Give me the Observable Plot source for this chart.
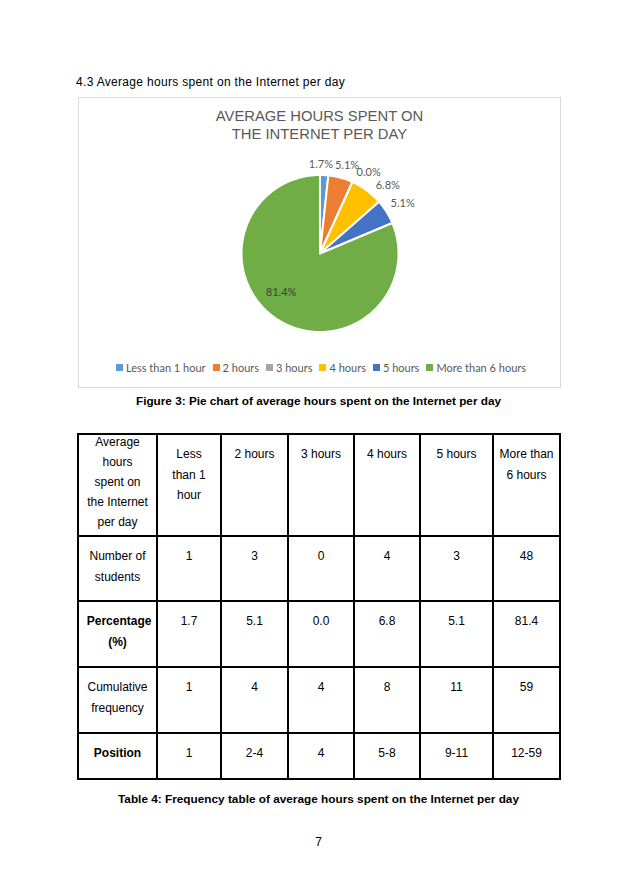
<!DOCTYPE html>
<html>
<head>
<meta charset="utf-8">
<script src="https://cdn.jsdelivr.net/npm/d3@7"></script>
<script src="https://cdn.jsdelivr.net/npm/@observablehq/plot@0.6"></script>
<style>
  html, body { margin: 0; padding: 0; background: #fff; }
  body { width: 637px; height: 889px; position: relative; font-family: "Liberation Sans", Arial, sans-serif; color: #000; overflow: hidden; }
  .abs { position: absolute; }
  #heading { left: 76px; top: 74px; font-size: 12px; line-height: 16px; letter-spacing: 0.32px; }
  #box { left: 78px; top: 97px; width: 483px; height: 291px; border: 1px solid #d9d9d9; box-sizing: border-box; }
  #ctitle { left: 78px; top: 107px; width: 483px; text-align: center; font-size: 14.8px; line-height: 18px; color: #595959; }
  #pie { left: 78px; top: 145px; }
  #legend { left: 83px; top: 357px; width: 483px; }
  #legend div > span { margin-right: 7px !important; }
  #legend div > span > svg { margin-right: 3px !important; }
  #figcap { left: 0; width: 637px; top: 393px; text-align: center; font-size: 11.75px; line-height: 16px; font-weight: bold; }
  #tbl { left: 77px; top: 433px; border-collapse: collapse; table-layout: fixed; font-size: 12px; }
  #tbl td { border: 2px solid #000; vertical-align: top; text-align: center; padding: 9px 0 0 0; line-height: 20.5px; overflow: hidden; }
  #tbl td div.w { margin: 0 auto; }
  #tbl td.first { padding: 0; line-height: 20px; }
  #tbl td.first div.w { position: relative; top: -3px; }
  #tbl td.bold { font-weight: bold; }
  #tabcap { left: 0; width: 637px; top: 791px; text-align: center; font-size: 11.8px; line-height: 16px; font-weight: bold; }
  #pnum { left: 0; width: 637px; top: 834px; text-align: center; font-size: 12px; line-height: 16px; }
</style>
</head>
<body>
<div id="heading" class="abs">4.3 Average hours spent on the Internet per day</div>
<div id="box" class="abs"></div>
<div id="ctitle" class="abs">AVERAGE HOURS SPENT ON<br>THE INTERNET PER DAY</div>
<div id="pie" class="abs"></div>
<div id="legend" class="abs"></div>
<div id="figcap" class="abs">Figure 3: Pie chart of average hours spent on the Internet per day</div>
<table id="tbl" class="abs"></table>
<div id="tabcap" class="abs">Table 4: Frequency table of average hours spent on the Internet per day</div>
<div id="pnum" class="abs">7</div>
<script>
// ---- data ----
const categories = ["Less than 1 hour", "2 hours", "3 hours", "4 hours", "5 hours", "More than 6 hours"];
const students = [1, 3, 0, 4, 3, 48];
const percentages = [1.7, 5.1, 0.0, 6.8, 5.1, 81.4];
const cumulative = [1, 4, 4, 8, 11, 59];
const positions = ["1", "2-4", "4", "5-8", "9-11", "12-59"];
const rowLabels = ["Number of students", "Percentage (%)", "Cumulative frequency", "Position"];
const headLabel = "Average hours spent on the Internet per day";

// ---- style ----
const colors = ["#5B9BD5", "#ED7D31", "#A5A5A5", "#FFC000", "#4472C4", "#70AD47"];
const R = 78.5;

// ---- pie geometry from data ----
const rows = categories.map((c, i) => ({cat: c, count: students[i], pct: percentages[i]}));
const arcs = d3.pie().sort(null).value(d => d.count).startAngle(0).endAngle(2 * Math.PI)(rows);
const pts = [];
arcs.forEach(a => {
  pts.push({cat: a.data.cat, x: 0, y: 0});
  const n = Math.max(2, Math.ceil((a.endAngle - a.startAngle) / 0.01));
  for (let k = 0; k <= n; k++) {
    const t = a.startAngle + (a.endAngle - a.startAngle) * k / n;
    pts.push({cat: a.data.cat, x: R * Math.sin(t), y: R * Math.cos(t)});
  }
  pts.push({cat: a.data.cat, x: 0, y: 0});
});

// labels: outside-end for small slices with a minimum angular gap; inside for the large slice
const labels = [];
let prev = -Infinity;
const gap = 14 * Math.PI / 180;
arcs.forEach((a, i) => {
  const mid = (a.startAngle + a.endAngle) / 2;
  const txt = a.data.pct.toFixed(1) + "%";
  if (a.data.pct > 50) {
    labels.push({x: 0.7 * R * Math.sin(mid + 0.2), y: 0.7 * R * Math.cos(mid + 0.2), t: txt, inside: true});
  } else {
    const ang = i === 0 ? mid * 0.2 : Math.max(mid, prev + gap);
    prev = Math.max(ang, mid);
    const d = R + 4.5 + 12 * Math.abs(Math.sin(ang)) + 6 * Math.abs(Math.cos(ang));
    labels.push({x: d * Math.sin(ang), y: d * Math.cos(ang), t: txt, inside: false});
  }
});

const chart = Plot.plot({
  width: 483,
  height: 200,
  margin: 0,
  x: {domain: [-241.5, 241.5], axis: null},
  y: {domain: [-92, 108], axis: null},
  color: {domain: categories, range: colors},
  style: {background: "transparent"},
  marks: [
    Plot.line(pts, {x: "x", y: "y", z: "cat", fill: "cat", stroke: "white", strokeWidth: 2, curve: "linear"}),
    Plot.text(labels.filter(d => !d.inside), {x: "x", y: "y", text: "t", fill: "#595959", fontSize: 11, fontFamily: "Lato, 'Open Sans', sans-serif"}),
    Plot.text(labels.filter(d => d.inside), {x: "x", y: "y", text: "t", fill: "#404040", fontSize: 11, fontFamily: "Lato, 'Open Sans', sans-serif"})
  ]
});
document.getElementById("pie").appendChild(chart);

const leg = Plot.legend({
  color: {domain: categories, range: colors},
  legend: "swatches",
  swatchSize: 7,
  style: {fontFamily: "Lato, 'Open Sans', sans-serif", fontSize: "11px", color: "#595959", marginBottom: "0", minHeight: "20px"}
});
leg.style.justifyContent = "center";
document.getElementById("legend").appendChild(leg);

// ---- table ----
const colW = [79, 64, 67, 66, 66, 73, 67];
const wrapW = [61.5, 48, 56, 56, 56, 58, 56];
const rowH = [102, 65, 66, 66, 46];
const tbl = document.getElementById("tbl");
const cg = document.createElement("colgroup");
colW.forEach(w => { const c = document.createElement("col"); c.style.width = w + "px"; cg.appendChild(c); });
tbl.appendChild(cg);
tbl.style.width = d3.sum(colW) + "px";
const body = [
  [headLabel, ...categories],
  [rowLabels[0], ...students.map(String)],
  [rowLabels[1], ...percentages.map(v => v.toFixed(1))],
  [rowLabels[2], ...cumulative.map(String)],
  [rowLabels[3], ...positions]
];
body.forEach((r, i) => {
  const tr = document.createElement("tr");
  tr.style.height = rowH[i] + "px";
  r.forEach((v, j) => {
    const td = document.createElement("td");
    const dv = document.createElement("div");
    dv.className = "w";
    dv.style.width = wrapW[j] + "px";
    dv.textContent = v;
    td.appendChild(dv);
    if (i === 0 && j === 0) td.className = "first";
    if (j === 0 && (i === 2 || i === 4)) td.className = "bold";
    tr.appendChild(td);
  });
  tbl.appendChild(tr);
});
</script>
</body>
</html>
